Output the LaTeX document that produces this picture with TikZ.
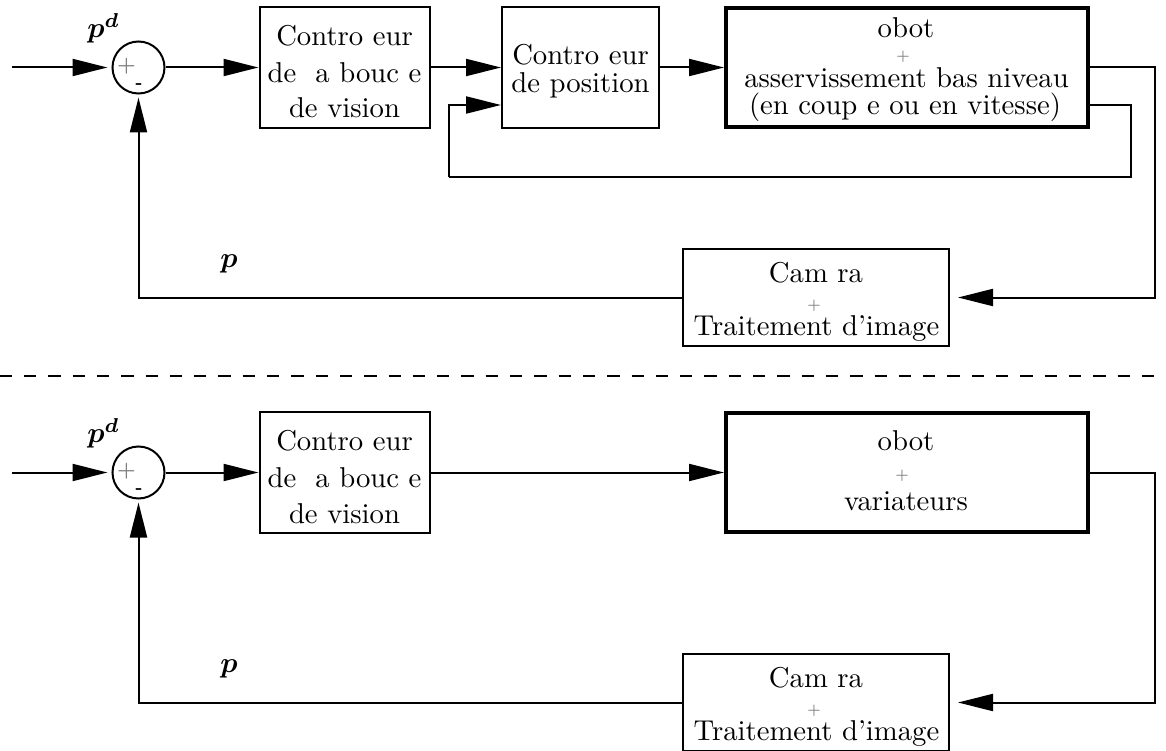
\documentclass[tikz,border=0pt]{standalone}
\usepackage{amsmath,bm,graphicx}
\usetikzlibrary{arrows.meta,calc}
\newcommand\bigt[1]{\scalebox{2.87}{#1}}
\newcommand\boxplus[0]{\scalebox{1.5}{$\bm{+}$}}
\begin{document}
\begin{tikzpicture}[x=1pt,y=-1pt,
  blk/.style={draw,line width=2pt,rectangle,inner sep=0pt},
  thickblk/.style={draw,line width=4pt,rectangle,inner sep=0pt},
  txt/.style={inner sep=0pt,anchor=base,font=\fontsize{10}{12}\selectfont},
  pls/.style={inner sep=0pt,text=gray,font=\fontsize{10}{12}\selectfont},
  mns/.style={inner sep=0pt,font=\fontsize{10}{12}\selectfont\bfseries},
  arr/.style={line width=2pt,-{Triangle[length=35pt,width=17pt]}},
  conn/.style={line width=2pt},
  sumc/.style={draw,circle,line width=2pt,minimum size=52pt,inner sep=0pt}
]
\useasboundingbox (0,0) rectangle (1166,751);

% ---------------- top diagram ----------------
\coordinate (in1) at (12,67.5);
\node[sumc] (s1) at (138.5,67.5) {};
\node[pls] (s1p) at (126.5,66) {\scalebox{2.1}{$\bm{+}$}};
\node[mns] (s1m) at (139,86) {\scalebox{1.8}{-}};
\node[txt] (pd1) at (103.5,37.5) {\bigt{$\bm{p}^{\bm{d}}$}};

\node[blk,minimum width=170pt,minimum height=121pt] (c1) at (344.5,67.5) {};
\node[txt] (c1t1) at (344.5,45.7) {\bigt{Contro eur}};
\node[txt] (c1t2) at (344.5,82.7) {\bigt{de\ \ a bouc e}};
\node[txt] (c1t3) at (344.5,118) {\bigt{de vision}};

\node[blk,minimum width=157pt,minimum height=121pt] (c2) at (580.5,67.5) {};
\node[txt] (c2t1) at (580.5,65) {\bigt{Contro eur}};
\node[txt] (c2t2) at (580.5,92.7) {\bigt{de position}};

\node[thickblk,minimum width=362pt,minimum height=119pt] (r1) at (907,67.5) {};
\node[txt] (r1t1) at (906,38) {\bigt{obot}};
\node[pls] (r1p) at (903,57) {\boxplus};
\node[txt] (r1t2) at (906.5,87.5) {\bigt{asservissement bas niveau}};
\node[txt] (r1t3) at (905,115) {\bigt{(en coup e ou en vitesse)}};

\node[blk,minimum width=266pt,minimum height=97pt] (cam1) at (816,297.5) {};
\node[txt] (cam1t1) at (816,282.7) {\bigt{Cam ra}};
\node[pls] (cam1p) at (814,306) {\boxplus};
\node[txt] (cam1t2) at (816.5,335) {\bigt{Traitement d'image}};

\node[txt] (p1) at (229,267) {\bigt{$\bm{p}$}};

\coordinate (o1) at (1155,67.5);
\coordinate (f1a) at (1131,105);
\coordinate (f1b) at (449,177);

\draw[arr,shorten >=4pt] (in1) -- (s1.west);
\draw[arr] (s1.east) -- (c1.west);
\draw[arr] (c1.east) -- (c2.west);
\draw[arr] (c2.east) -- (r1.west);
\draw[arr,shorten >=8pt] (r1.east) -- (o1) |- (cam1.east);
\draw[conn] (r1.east |- f1a) -- (f1a) |- (f1b);
\draw[arr] (f1b) |- (c2.west |- f1a);
\draw[arr,shorten >=3pt] (cam1.west) -| (s1.south);

% ---------------- separator ----------------
\coordinate (sepL) at (-0.3,376);
\coordinate (sepR) at (1166,376);
\draw[conn,dash pattern=on 12.3pt off 12pt] (sepL) -- (sepR);

% ---------------- bottom diagram ----------------
\coordinate (in2) at (12,472.5);
\node[sumc] (s2) at (138.5,472.5) {};
\node[pls] (s2p) at (126.5,471) {\scalebox{2.1}{$\bm{+}$}};
\node[mns] (s2m) at (139,491) {\scalebox{1.8}{-}};
\node[txt] (pd2) at (103.5,442.5) {\bigt{$\bm{p}^{\bm{d}}$}};

\node[blk,minimum width=170pt,minimum height=121pt] (c3) at (344.5,472.5) {};
\node[txt] (c3t1) at (344.5,450.7) {\bigt{Contro eur}};
\node[txt] (c3t2) at (344.5,487.7) {\bigt{de\ \ a bouc e}};
\node[txt] (c3t3) at (344.5,523) {\bigt{de vision}};

\node[thickblk,minimum width=362pt,minimum height=119pt] (r2) at (907,472.5) {};
\node[txt] (r2t1) at (906,450) {\bigt{obot}};
\node[pls] (r2p) at (902,476) {\boxplus};
\node[txt] (r2t2) at (906,510) {\bigt{variateurs}};

\node[blk,minimum width=266pt,minimum height=97pt] (cam2) at (816,702.5) {};
\node[txt] (cam2t1) at (816,687.7) {\bigt{Cam ra}};
\node[pls] (cam2p) at (814,711) {\boxplus};
\node[txt] (cam2t2) at (816.5,740) {\bigt{Traitement d'image}};

\node[txt] (p2) at (229,672) {\bigt{$\bm{p}$}};

\coordinate (o2) at (1155,472.5);

\draw[arr,shorten >=4pt] (in2) -- (s2.west);
\draw[arr] (s2.east) -- (c3.west);
\draw[arr] (c3.east) -- (r2.west);
\draw[arr,shorten >=8pt] (r2.east) -- (o2) |- (cam2.east);
\draw[arr,shorten >=3pt] (cam2.west) -| (s2.south);
\end{tikzpicture}
\end{document}
